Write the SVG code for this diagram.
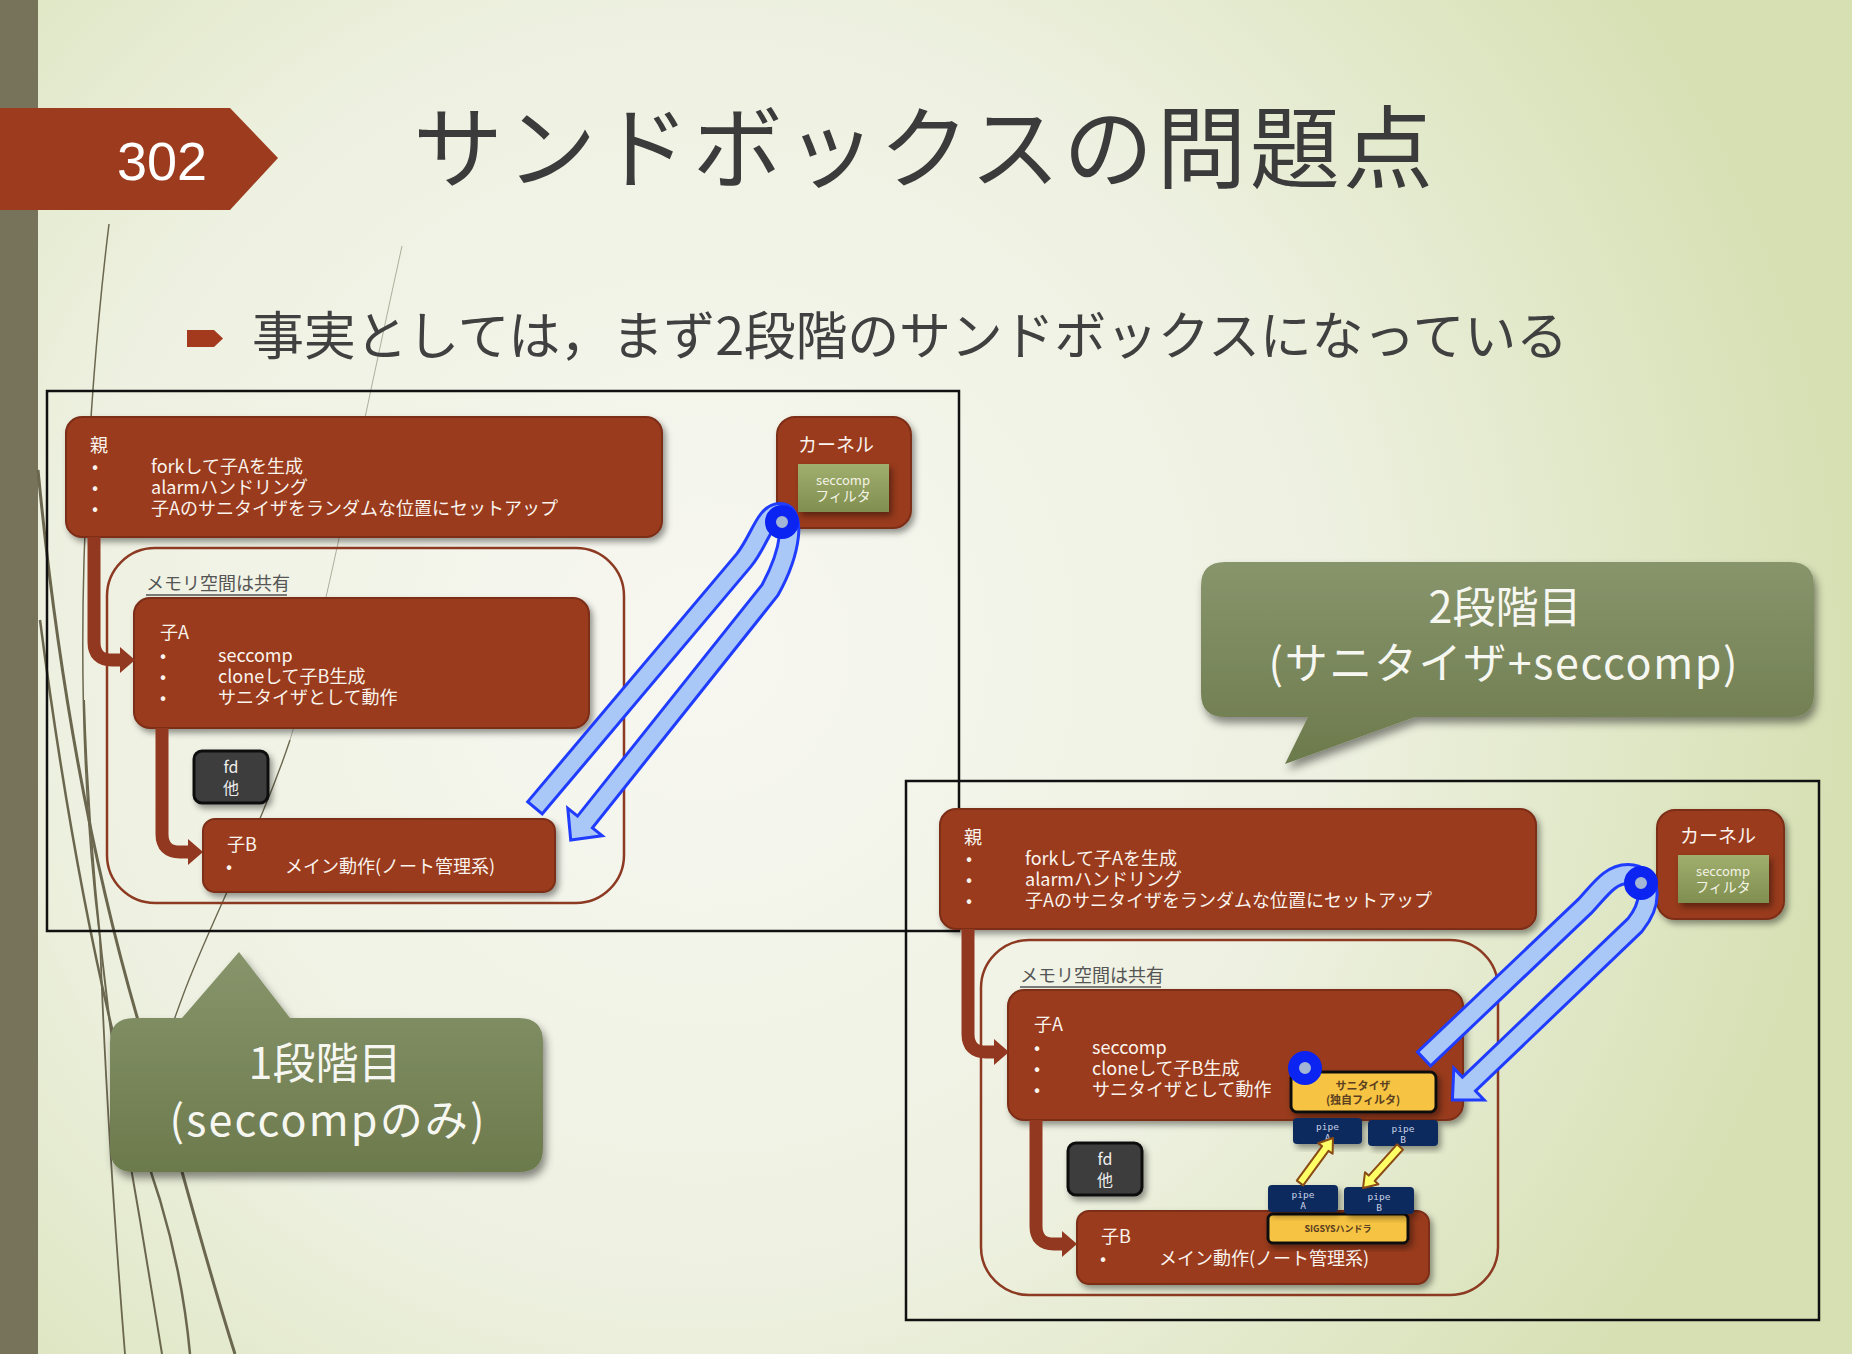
<svg xmlns="http://www.w3.org/2000/svg" width="1852" height="1354" viewBox="0 0 1852 1354">
<defs>
<radialGradient id="bg" cx="700" cy="650" r="1150" gradientUnits="userSpaceOnUse">
<stop offset="0" stop-color="#f7f7f1"/>
<stop offset="0.55" stop-color="#eef1e1"/>
<stop offset="1" stop-color="#d6e0b3"/>
</radialGradient>
<linearGradient id="cal" x1="0" y1="0" x2="0" y2="1">
<stop offset="0" stop-color="#88956c"/>
<stop offset="1" stop-color="#6c7a4c"/>
</linearGradient>
<linearGradient id="grn" x1="0" y1="0" x2="0" y2="1">
<stop offset="0" stop-color="#a0ae6e"/>
<stop offset="1" stop-color="#808f4f"/>
</linearGradient>
<filter id="sh" x="-10%" y="-10%" width="130%" height="140%">
<feDropShadow dx="3" dy="4" stdDeviation="3" flood-color="#000" flood-opacity="0.4"/>
</filter>
<filter id="shc" x="-10%" y="-10%" width="130%" height="140%">
<feDropShadow dx="3" dy="6" stdDeviation="4" flood-color="#000" flood-opacity="0.45"/>
</filter>
</defs>
<style>
.box{fill:#993b1f;stroke:#7d2d17;stroke-width:2}
.tw{font-family:"Noto Sans CJK JP","Noto Sans",sans-serif;fill:#fbf3ee;font-size:18px}
.kt{font-family:"Noto Sans CJK JP","Noto Sans",sans-serif;fill:#fbf3ee;font-size:19px;text-anchor:middle}
.gt{font-family:"Noto Sans CJK JP","Noto Sans",sans-serif;fill:#f3f3e6;font-size:13px;text-anchor:middle}
.ft{font-family:"Noto Sans CJK JP","Noto Sans",sans-serif;fill:#eeeeee;font-size:16px;text-anchor:middle}
.frame{fill:none;stroke:#111;stroke-width:2.5}
.mem{fill:none;stroke:#8c3a22;stroke-width:2.5}
.memt{font-family:"Noto Sans CJK JP","Noto Sans",sans-serif;fill:#555;font-size:18px}
.fdb{fill:#3d3d3d;stroke:#111;stroke-width:3}
.pipe{fill:#0f2b5e}
.pt{font-family:"DejaVu Sans Mono",monospace;font-size:9.5px;fill:#c9d1e3;text-anchor:middle}
.ylw{fill:#f6c343;stroke:#111;stroke-width:3}
.yt{font-family:"Noto Sans CJK JP",sans-serif;font-weight:bold;fill:#5a4020;text-anchor:middle}
.brn{fill:none;stroke:#933820;stroke-width:13}
.bhead{fill:#933820}
.blo{fill:none;stroke:#1f3cff;stroke-width:22;stroke-linejoin:round}
.bli{fill:none;stroke:#a9c7f7;stroke-width:16;stroke-linejoin:round}
.bh{fill:#a9c7f7;stroke:#1f3cff;stroke-width:3}
.ring{fill:#a4b6d6;stroke:#0b24f2;stroke-width:11}
.yarr{fill:#ffff66;stroke:#8a4b14;stroke-width:2;stroke-linejoin:round}
.ct{font-family:"Noto Sans CJK JP","Noto Sans",sans-serif;font-size:43px;fill:#f7f7f2;text-anchor:middle}
.deco{fill:none;stroke:#6b674f}
</style>

<rect x="0" y="0" width="1852" height="1354" fill="url(#bg)"/>
<rect x="0" y="0" width="38" height="1354" fill="#77725a"/>

<g id="decoration">
<path class="deco" stroke-width="1.5" d="M 109 224 C 96 330 88 440 84 560 C 80 700 85 820 100 940"/>
<path class="deco" stroke-width="3" d="M 38 470 C 60 700 100 900 150 1060 C 180 1160 205 1260 235 1354"/>
<path class="deco" stroke-width="2.5" d="M 40 620 C 70 850 110 1050 160 1200 C 175 1250 185 1300 190 1354"/>
<path class="deco" stroke-width="2" d="M 84 700 C 90 900 115 1080 140 1220 C 148 1270 155 1310 162 1354"/>
<path class="deco" stroke-width="1.8" d="M 100 940 C 105 1080 115 1230 125 1354"/>
<path class="deco" stroke-width="1" stroke="#a8a690" opacity="0.5" d="M 402 246 C 355 460 320 640 290 740"/>
<path class="deco" stroke-width="1.4" stroke="#77735c" d="M 290 740 C 260 830 220 900 185 990 C 170 1030 160 1060 150 1090"/>
</g>

<g id="title-tag">
<path d="M0 108 H230 L278 158 L230 210 H0 Z" fill="#9c3b1e"/>
<text x="117" y="180" font-family="Liberation Sans, Arial, sans-serif" font-size="54" fill="#ffffff">302</text>
</g>
<text id="title" x="413" y="181" font-family="Noto Sans CJK JP, sans-serif" font-size="90" fill="#3b3b3b" textLength="1020" lengthAdjust="spacing">サンドボックスの問題点</text>
<g id="subtitle">
<path d="M187 330 H214 L223 338.5 L214 347 H187 Z" fill="#a33a1e"/>
<text x="252" y="355" font-family="Noto Sans CJK JP, sans-serif" font-size="52" fill="#404040" textLength="1316" lengthAdjust="spacing">事実としては，まず2段階のサンドボックスになっている</text>
</g>

<rect id="frame-left" class="frame" x="47" y="391" width="912" height="540"/>
<rect id="frame-right" class="frame" x="906" y="781" width="913" height="539"/>

<!-- LEFT DIAGRAM -->
<g id="L-parent">
<rect class="box" x="66" y="417" width="596" height="120" rx="16" filter="url(#sh)"/>
<text class="tw" x="90" y="452">親</text>
<text class="tw" x="92" y="473">•</text><text class="tw" x="151" y="473">forkして子Aを生成</text>
<text class="tw" x="92" y="494">•</text><text class="tw" x="151" y="494">alarmハンドリング</text>
<text class="tw" x="92" y="515">•</text><text class="tw" x="151" y="515">子Aのサニタイザをランダムな位置にセットアップ</text>
</g>
<g id="L-kernel">
<rect class="box" x="777" y="417" width="134" height="111" rx="18" filter="url(#sh)"/>
<text class="kt" x="836" y="452">カーネル</text>
<rect x="798" y="464" width="91" height="48" fill="url(#grn)" filter="url(#sh)"/>
<text class="gt" x="843" y="485">seccomp</text>
<text class="gt" x="843" y="501" style="font-size:14px">フィルタ</text>
</g>
<g id="L-memory">
<rect class="mem" x="107" y="548" width="517" height="355" rx="48"/>
<text class="memt" x="146" y="590">メモリ空間は共有</text>
<line x1="146" y1="595" x2="287" y2="595" stroke="#555" stroke-width="1.3"/>
</g>
<g id="L-childA">
<rect class="box" x="134" y="598" width="455" height="130" rx="16" filter="url(#sh)"/>
<text class="tw" x="160" y="639">子A</text>
<text class="tw" x="160" y="662">•</text><text class="tw" x="218" y="662">seccomp</text>
<text class="tw" x="160" y="683">•</text><text class="tw" x="218" y="683">cloneして子B生成</text>
<text class="tw" x="160" y="704">•</text><text class="tw" x="218" y="704">サニタイザとして動作</text>
</g>
<g id="L-fd">
<rect class="fdb" x="194" y="751" width="74" height="52" rx="8" filter="url(#sh)"/>
<text class="ft" x="231" y="773">fd</text>
<text class="ft" x="231" y="794">他</text>
</g>
<g id="L-childB">
<rect class="box" x="203" y="819" width="352" height="73" rx="12" filter="url(#sh)"/>
<text class="tw" x="227" y="851">子B</text>
<text class="tw" x="226" y="873">•</text><text class="tw" x="285" y="873">メイン動作(ノート管理系)</text>
</g>

<!-- RIGHT DIAGRAM -->
<g transform="translate(874,392)">
<g id="R-parent">
<rect class="box" x="66" y="417" width="596" height="120" rx="16" filter="url(#sh)"/>
<text class="tw" x="90" y="452">親</text>
<text class="tw" x="92" y="473">•</text><text class="tw" x="151" y="473">forkして子Aを生成</text>
<text class="tw" x="92" y="494">•</text><text class="tw" x="151" y="494">alarmハンドリング</text>
<text class="tw" x="92" y="515">•</text><text class="tw" x="151" y="515">子Aのサニタイザをランダムな位置にセットアップ</text>
</g>
<g id="R-memory">
<rect class="mem" x="107" y="548" width="517" height="355" rx="48"/>
<text class="memt" x="146" y="590">メモリ空間は共有</text>
<line x1="146" y1="595" x2="287" y2="595" stroke="#555" stroke-width="1.3"/>
</g>
<g id="R-childA">
<rect class="box" x="134" y="598" width="455" height="130" rx="16" filter="url(#sh)"/>
<text class="tw" x="160" y="639">子A</text>
<text class="tw" x="160" y="662">•</text><text class="tw" x="218" y="662">seccomp</text>
<text class="tw" x="160" y="683">•</text><text class="tw" x="218" y="683">cloneして子B生成</text>
<text class="tw" x="160" y="704">•</text><text class="tw" x="218" y="704">サニタイザとして動作</text>
</g>
<g id="R-fd">
<rect class="fdb" x="194" y="751" width="74" height="52" rx="8" filter="url(#sh)"/>
<text class="ft" x="231" y="773">fd</text>
<text class="ft" x="231" y="794">他</text>
</g>
<g id="R-childB">
<rect class="box" x="203" y="819" width="352" height="73" rx="12" filter="url(#sh)"/>
<text class="tw" x="227" y="851">子B</text>
<text class="tw" x="226" y="873">•</text><text class="tw" x="285" y="873">メイン動作(ノート管理系)</text>
</g>
</g>
<g id="R-kernel">
<rect class="box" x="1657" y="810" width="127" height="109" rx="18" filter="url(#sh)"/>
<text class="kt" x="1718" y="843">カーネル</text>
<rect x="1678" y="855" width="91" height="48" fill="url(#grn)" filter="url(#sh)"/>
<text class="gt" x="1723" y="876">seccomp</text>
<text class="gt" x="1723" y="892" style="font-size:14px">フィルタ</text>
</g>
<g id="R-sanitizer">
<rect class="ylw" x="1291" y="1072" width="145" height="40" rx="6" filter="url(#sh)"/>
<text class="yt" x="1363" y="1090" font-size="11">サニタイザ</text>
<text class="yt" x="1363" y="1104" font-size="11">(独自フィルタ)</text>
</g>
<g id="R-pipeA-top">
<rect class="pipe" x="1293" y="1118" width="69" height="26" rx="4" filter="url(#sh)"/>
<text class="pt" x="1327.5" y="1130">pipe</text><text class="pt" x="1327.5" y="1141">A</text>
</g>
<g id="R-pipeB-top">
<rect class="pipe" x="1368" y="1120" width="70" height="26" rx="4" filter="url(#sh)"/>
<text class="pt" x="1403" y="1132">pipe</text><text class="pt" x="1403" y="1143">B</text>
</g>
<g id="R-sigsys">
<rect class="ylw" x="1268" y="1214" width="140" height="29" rx="5" filter="url(#sh)"/>
<text class="yt" x="1338" y="1232" font-size="9">SIGSYSハンドラ</text>
</g>
<g id="R-pipeA-bottom">
<rect class="pipe" x="1268" y="1185" width="70" height="27" rx="4" filter="url(#sh)"/>
<text class="pt" x="1303" y="1198">pipe</text><text class="pt" x="1303" y="1209">A</text>
</g>
<g id="R-pipeB-bottom">
<rect class="pipe" x="1344" y="1187" width="70" height="27" rx="4" filter="url(#sh)"/>
<text class="pt" x="1379" y="1200">pipe</text><text class="pt" x="1379" y="1211">B</text>
</g>

<!-- CONNECTORS -->
<g id="connectors">
<g id="L-brown">
<path class="brn" d="M 94 537 V 642 Q 94 660 112 660 H 121"/>
<polygon class="bhead" points="120,647 135,660 120,673"/>
<path class="brn" d="M 162 728 V 834 Q 162 852 180 852 H 189"/>
<polygon class="bhead" points="188,839 203,852 188,865"/>
</g>
<g id="R-brown" transform="translate(874,392)">
<path class="brn" d="M 94 537 V 642 Q 94 660 112 660 H 121"/>
<polygon class="bhead" points="120,647 135,660 120,673"/>
<path class="brn" d="M 162 728 V 834 Q 162 852 180 852 H 189"/>
<polygon class="bhead" points="188,839 203,852 188,865"/>
</g>
<g id="R-yellow">
<polygon class="yarr" points="1303.2,1185.4 1328.5,1150.9 1332.6,1153.8 1333,1138 1318.1,1143.2 1322.1,1146.1 1296.8,1180.6"/>
<polygon class="yarr" points="1403.0,1149.7 1374.7,1181.0 1378.4,1184.3 1363,1188 1365.0,1172.3 1368.7,1175.6 1397.0,1144.3"/>
</g>
<g id="L-blue">
<path class="blo" d="M 534 809 L 744 560 C 760 540 765 513 780 513 C 795 513 792 550 770 590 L 585 822"/>
<polygon class="bh" points="602.2,835.7 570.7,840 567.8,808.3"/>
<path class="bli" d="M 535.9 806.7 L 744 560 C 760 540 765 513 780 513 C 795 513 792 550 770 590 L 582.5 825"/>
<circle class="ring" cx="782" cy="522" r="11.5"/>
</g>
<g id="R-blue">
<path class="blo" d="M 1423 1060 L 1585 906 C 1600 890 1610 874 1628 874 C 1650 874 1655 900 1635 925 L 1469 1084"/>
<polygon class="bh" points="1484.2,1099.9 1452.4,1099.9 1453.8,1068.1"/>
<path class="bli" d="M 1425.2 1057.9 L 1585 906 C 1600 890 1610 874 1628 874 C 1650 874 1655 900 1635 925 L 1466.1 1086.8"/>
<circle class="ring" cx="1641" cy="883" r="11.5"/>
<circle class="ring" cx="1305" cy="1068" r="11.5"/>
</g>
</g>

<!-- CALLOUTS -->
<g id="callout-stage2">
<path d="M 1225 562 H 1790 Q 1814 562 1814 586 V 693 Q 1814 717 1790 717 H 1415 L 1285 764 L 1308 717 H 1225 Q 1201 717 1201 693 V 586 Q 1201 562 1225 562 Z" fill="url(#cal)" filter="url(#shc)"/>
<text class="ct" x="1505" y="623">2段階目</text>
<text class="ct" x="1503" y="679" textLength="469" lengthAdjust="spacing">(サニタイザ+seccomp)</text>
</g>
<g id="callout-stage1">
<path d="M 134 1018 H 182 L 239 952 L 290 1018 H 519 Q 543 1018 543 1042 V 1148 Q 543 1172 519 1172 H 134 Q 110 1172 110 1148 V 1042 Q 110 1018 134 1018 Z" fill="url(#cal)" filter="url(#shc)"/>
<text class="ct" x="325" y="1079">1段階目</text>
<text class="ct" x="327" y="1136" textLength="315" lengthAdjust="spacing">(seccompのみ)</text>
</g>
</svg>
